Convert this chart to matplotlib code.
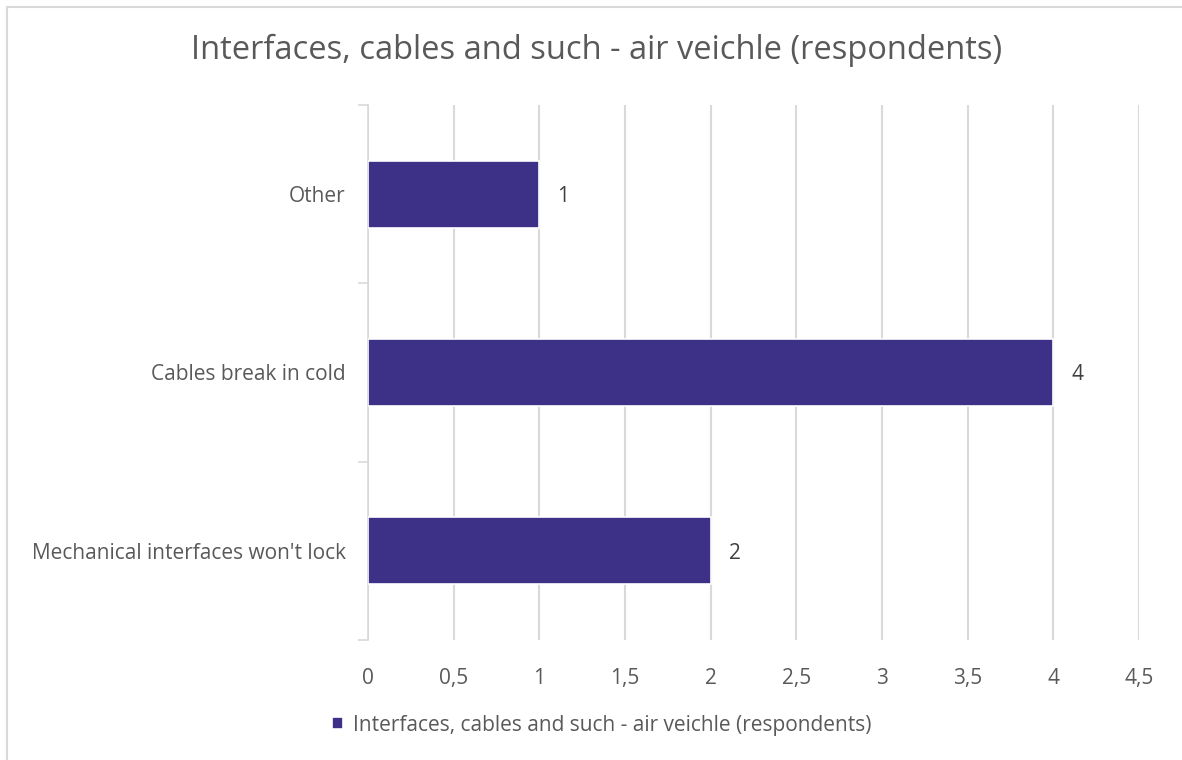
import matplotlib.pyplot as plt
from matplotlib.patches import Rectangle

# chart data
categories = ["Mechanical interfaces won't lock", "Cables break in cold", "Other"]
values = [2, 4, 1]
x_ticks = [0, 0.5, 1, 1.5, 2, 2.5, 3, 3.5, 4, 4.5]
x_tick_labels = ["0", "0,5", "1", "1,5", "2", "2,5", "3", "3,5", "4", "4,5"]
title = "Interfaces, cables and such - air veichle (respondents)"

bar_color = "#3C3087"
text_color = "#595959"
grid_color = "#D9D9D9"

plt.rcParams['font.family'] = ['Open Sans', 'DejaVu Sans']

fig = plt.figure(figsize=(11.82, 7.60), dpi=100)
ax = fig.add_axes([368 / 1182, 1 - 640 / 760, (1139 - 368) / 1182, (640 - 105) / 760])

# outer chart border (only top/left visible in the crop)
fig.patches.append(Rectangle((7 / 1182, -0.05), 1.2, 1 - 7 / 760 + 0.05,
                             transform=fig.transFigure, fill=False,
                             edgecolor=grid_color, linewidth=1.5))

y = list(range(len(categories)))
bars = ax.barh(y, values, height=0.375, color=bar_color, edgecolor="white",
               linewidth=1.2, zorder=3, label=title)

for yi, v in zip(y, values):
    ax.annotate(str(v), xy=(v, yi), xytext=(13, 0), textcoords="offset points",
                ha="left", va="center_baseline", fontsize=15, color="#404040")

ax.set_xlim(0, 4.5)
ax.set_ylim(-0.5, len(categories) - 0.5)
ax.set_xticks(x_ticks)
ax.set_xticklabels(x_tick_labels)
ax.set_yticks(y)
ax.set_yticklabels(categories)
ax.tick_params(axis="x", length=0, labelsize=15, labelcolor=text_color, pad=20)
ax.tick_params(axis="y", length=0, labelsize=15, labelcolor=text_color, pad=16)

# category boundary ticks on the y axis
ax.set_yticks([i - 0.5 for i in range(len(categories) + 1)], minor=True)
ax.tick_params(axis="y", which="minor", length=7, color=grid_color, width=1.2)

ax.grid(axis="x", color=grid_color, linewidth=1.5, zorder=0)
ax.set_axisbelow(True)
for side in ["top", "right", "bottom"]:
    ax.spines[side].set_visible(False)
ax.spines["left"].set_color(grid_color)
ax.spines["left"].set_linewidth(1.2)

fig.text(597 / 1182, 1 - 50 / 760, title, ha="center", va="center",
         fontsize=23.5, color=text_color)

leg = fig.legend(handles=[bars], labels=[title], loc="center",
                 bbox_to_anchor=(602 / 1182, 1 - 725 / 760), frameon=False,
                 fontsize=15, handlelength=0.5, handleheight=0.5,
                 handletextpad=0.5, labelcolor=text_color)

fig.savefig("out.png", dpi=100, facecolor="white")
